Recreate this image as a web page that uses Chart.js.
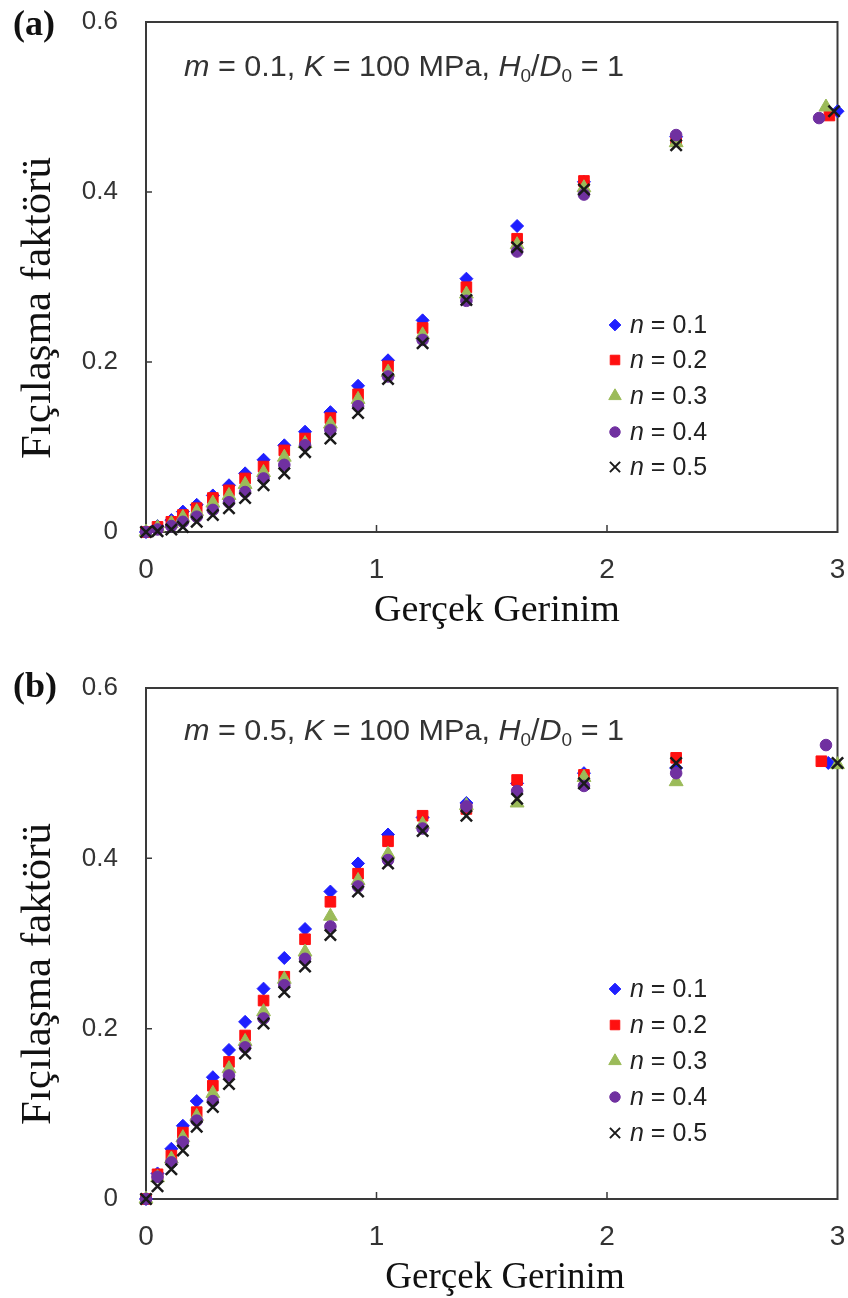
<!DOCTYPE html>
<html><head><meta charset="utf-8">
<script src="https://cdn.jsdelivr.net/npm/chart.js@4.4.0/dist/chart.umd.min.js"></script>
<style>
html,body{margin:0;padding:0;background:#fff;}
#wrap{position:relative;width:848px;height:1298px;overflow:hidden;background:#fff;}
canvas{position:absolute;left:0;}
</style>
</head><body>
<div id="wrap">
<canvas id="ca" width="848" height="649" style="top:0px"></canvas>
<canvas id="cb" width="848" height="630" style="top:668px"></canvas>
</div>
<script>
// ---------- DATA ----------
const strain = [0, 0.05, 0.11, 0.16, 0.22, 0.29, 0.36, 0.43, 0.51, 0.60, 0.69, 0.80, 0.92, 1.05, 1.20, 1.39, 1.61, 1.90, 2.30];
const endStrainA = [3.0, 2.965, 2.95, 2.92, 2.985];
const endStrainB = [2.96, 2.93, 3.0, 2.95, 3.0];

const nLabels = ['0.1', '0.2', '0.3', '0.4', '0.5'];
const xTickLabels = ['0', '1', '2', '3'];
const yTickLabels = ['0', '0.2', '0.4', '0.6'];

// (a) m = 0.1
const a_n01 = [0, 0.007, 0.014, 0.024, 0.032, 0.043, 0.055, 0.069, 0.085, 0.102, 0.118, 0.141, 0.172, 0.202, 0.249, 0.298, 0.360, 0.412, 0.465, 0.495];
const a_n02 = [0, 0.006, 0.012, 0.020, 0.028, 0.040, 0.049, 0.063, 0.077, 0.096, 0.110, 0.134, 0.162, 0.195, 0.240, 0.288, 0.345, 0.413, 0.460, 0.490];
const a_n03 = [0, 0.005, 0.010, 0.017, 0.024, 0.034, 0.043, 0.056, 0.070, 0.088, 0.104, 0.127, 0.156, 0.188, 0.232, 0.280, 0.338, 0.405, 0.458, 0.500];
const a_n04 = [0, 0.003, 0.007, 0.012, 0.018, 0.026, 0.035, 0.047, 0.063, 0.079, 0.102, 0.120, 0.148, 0.183, 0.226, 0.272, 0.330, 0.397, 0.467, 0.487];
const a_n05 = [0, 0.001, 0.003, 0.006, 0.012, 0.020, 0.028, 0.040, 0.055, 0.069, 0.094, 0.110, 0.140, 0.180, 0.222, 0.273, 0.335, 0.403, 0.455, 0.495];

// (b) m = 0.5
const b_n01 = [0, 0.030, 0.059, 0.086, 0.115, 0.143, 0.175, 0.208, 0.247, 0.283, 0.317, 0.361, 0.394, 0.428, 0.448, 0.465, 0.488, 0.500, 0.506, 0.512];
const b_n02 = [0, 0.029, 0.051, 0.078, 0.102, 0.133, 0.161, 0.192, 0.233, 0.261, 0.305, 0.349, 0.382, 0.420, 0.450, 0.458, 0.492, 0.498, 0.518, 0.514];
const b_n03 = [0, 0.025, 0.047, 0.072, 0.097, 0.124, 0.153, 0.185, 0.220, 0.258, 0.290, 0.332, 0.374, 0.405, 0.440, 0.462, 0.465, 0.495, 0.490, 0.510];
const b_n04 = [0, 0.026, 0.043, 0.067, 0.092, 0.115, 0.145, 0.178, 0.212, 0.251, 0.282, 0.320, 0.367, 0.398, 0.435, 0.461, 0.479, 0.485, 0.500, 0.533];
const b_n05 = [0, 0.015, 0.035, 0.057, 0.085, 0.108, 0.135, 0.171, 0.206, 0.243, 0.273, 0.310, 0.361, 0.394, 0.432, 0.450, 0.470, 0.488, 0.512, 0.512];

// ---------- STYLE ----------
const colors = ['#1f1fff', '#ff1010', '#9bbb59', '#7030a0', '#1a1a1a'];
const styles = ['rectRot', 'rect', 'triangle', 'circle', 'crossRot'];
const radii  = [6.5, 7.5, 8, 5.8, 8];
const SANS = '"Liberation Sans", Arial, sans-serif';
const SERIF = '"Liberation Serif", "Times New Roman", serif';

function makePoints(ys, endX) {
  return ys.map((y, i) => ({ x: i < strain.length ? strain[i] : endX, y: y }));
}

function fontFor(s, size) {
  const sz = s.sub ? Math.round(size * 0.62) : size;
  return (s.i ? 'italic ' : '') + sz + 'px ' + SANS;
}
function drawRich(ctx, segs, x, y, size, targetW) {
  let w = 0;
  segs.forEach(s => { ctx.font = fontFor(s, size); w += ctx.measureText(s.t).width; });
  const sx = targetW ? targetW / w : 1;
  ctx.save();
  ctx.translate(x, y);
  ctx.scale(sx, 1);
  ctx.textBaseline = 'alphabetic';
  ctx.textAlign = 'left';
  let cx = 0;
  segs.forEach(s => {
    ctx.font = fontFor(s, size);
    ctx.fillText(s.t, cx, s.sub ? size * 0.22 : 0);
    cx += ctx.measureText(s.t).width;
  });
  ctx.restore();
}

const deco = {
  id: 'deco',
  beforeDatasetsDraw(chart, args, o) {
    const ctx = chart.ctx, a = chart.chartArea;
    const xs = chart.scales.x, ys = chart.scales.y;
    ctx.save();
    ctx.strokeStyle = '#3a3a3a';
    ctx.lineWidth = 2;
    ctx.strokeRect(a.left, a.top, a.right - a.left, a.bottom - a.top);
    ctx.lineWidth = 1.5;
    ctx.beginPath();
    [0.2, 0.4].forEach(v => { const py = ys.getPixelForValue(v); ctx.moveTo(a.left, py); ctx.lineTo(a.left + 6, py); });
    [1, 2].forEach(v => { const px = xs.getPixelForValue(v); ctx.moveTo(px, a.bottom); ctx.lineTo(px, a.bottom - 7); });
    ctx.stroke();
    ctx.restore();
  },
  afterDraw(chart, args, o) {
    const ctx = chart.ctx;
    ctx.save();
    // panel label
    ctx.fillStyle = '#111';
    ctx.font = 'bold 36px ' + SERIF;
    ctx.textAlign = 'left';
    ctx.textBaseline = 'middle';
    ctx.fillText(o.panel, 13, o.panelY);
    // y title
    ctx.save();
    ctx.translate(50, o.yTitleY);
    ctx.rotate(-Math.PI / 2);
    ctx.textAlign = 'center';
    ctx.textBaseline = 'alphabetic';
    ctx.font = '43px ' + SERIF;
    ctx.fillText('Fıçılaşma faktörü', 0, 0);
    ctx.restore();
    // x title
    ctx.textAlign = 'center';
    ctx.textBaseline = 'alphabetic';
    ctx.font = o.xTitleSize + 'px ' + SERIF;
    ctx.fillText('Gerçek Gerinim', o.xTitleX, o.xTitleBase);
    // annotation
    ctx.fillStyle = '#333';
    drawRich(ctx, [
      { t: 'm', i: true }, { t: ' = ' + o.m + ', ' }, { t: 'K', i: true }, { t: ' = 100 MPa, ' },
      { t: 'H', i: true }, { t: '0', sub: true }, { t: '/' }, { t: 'D', i: true }, { t: '0', sub: true }, { t: ' = 1' }
    ], 184, o.annBase, 29, 440);
    // legend
    chart.data.datasets.forEach((ds, k) => {
      const y = o.legRows[k];
      ctx.fillStyle = colors[k];
      ctx.strokeStyle = colors[k];
      ctx.lineWidth = k === 4 ? 2 : 1;
      Chart.helpers.drawPoint(ctx, { pointStyle: styles[k], radius: radii[k] * 0.9, rotation: 0, borderWidth: k === 4 ? 2 : 1 }, 615, y);
      ctx.fillStyle = '#222';
      ctx.textBaseline = 'middle';
      ctx.textAlign = 'left';
      ctx.font = 'italic 25px ' + SANS;
      ctx.fillText('n', 630, y + 1);
      const wn = ctx.measureText('n').width;
      ctx.font = '25px ' + SANS;
      ctx.fillText(' = ' + nLabels[k], 630 + wn, y + 1);
    });
    ctx.restore();
  }
};

function makeChart(id, series, endX, cfg) {
  const h = document.getElementById(id).height;
  const datasets = series.map((ys, k) => ({
    label: 'n = ' + nLabels[k],
    data: makePoints(ys, endX[k]),
    pointStyle: styles[k],
    pointRadius: radii[k],
    pointHoverRadius: radii[k],
    backgroundColor: colors[k],
    borderColor: colors[k],
    pointBorderWidth: k === 4 ? 2.5 : 1,
    showLine: false,
    clip: false,
    order: 4 - k
  }));
  return new Chart(document.getElementById(id), {
    type: 'scatter',
    data: { datasets },
    options: {
      responsive: false,
      animation: false,
      events: [],
      layout: { padding: { top: cfg.plotTop, right: 10, left: 0, bottom: 0 } },
      plugins: { legend: { display: false }, tooltip: { enabled: false }, deco: cfg },
      scales: {
        x: {
          type: 'linear', min: 0, max: 3,
          afterFit: s => { s.height = h - cfg.plotBottom; s.paddingLeft = 0; s.paddingRight = 0; },
          grid: { display: false, drawTicks: false },
          border: { display: true, color: '#3a3a3a', width: 2 },
          ticks: { stepSize: 1, padding: 21, color: '#333', font: { family: SANS, size: 28 },
                   callback: (v) => xTickLabels[Math.round(v)] }
        },
        y: {
          min: 0, max: 0.6,
          afterFit: s => { s.width = 146; s.paddingTop = 0; s.paddingBottom = 0; },
          grid: { display: false, drawTicks: false },
          border: { display: true, color: '#3a3a3a', width: 2 },
          ticks: { stepSize: 0.2, padding: 28, color: '#333', font: { family: SANS, size: 26 },
                   callback: (v) => yTickLabels[Math.round(v * 5)] }
        }
      }
    },
    plugins: [deco]
  });
}

makeChart('ca', [a_n01, a_n02, a_n03, a_n04, a_n05], endStrainA,
  { panel: '(a)', m: '0.1', plotTop: 22, plotBottom: 532, panelY: 26, yTitleY: 308,
    xTitleX: 497, xTitleBase: 621, xTitleSize: 38, annBase: 76,
    legRows: [325, 360, 396, 432, 467] });
makeChart('cb', [b_n01, b_n02, b_n03, b_n04, b_n05], endStrainB,
  { panel: '(b)', m: '0.5', plotTop: 20, plotBottom: 531, panelY: 20, yTitleY: 306,
    xTitleX: 505, xTitleBase: 620, xTitleSize: 37, annBase: 72,
    legRows: [321, 357, 393, 429, 465] });
</script>
</body></html>
